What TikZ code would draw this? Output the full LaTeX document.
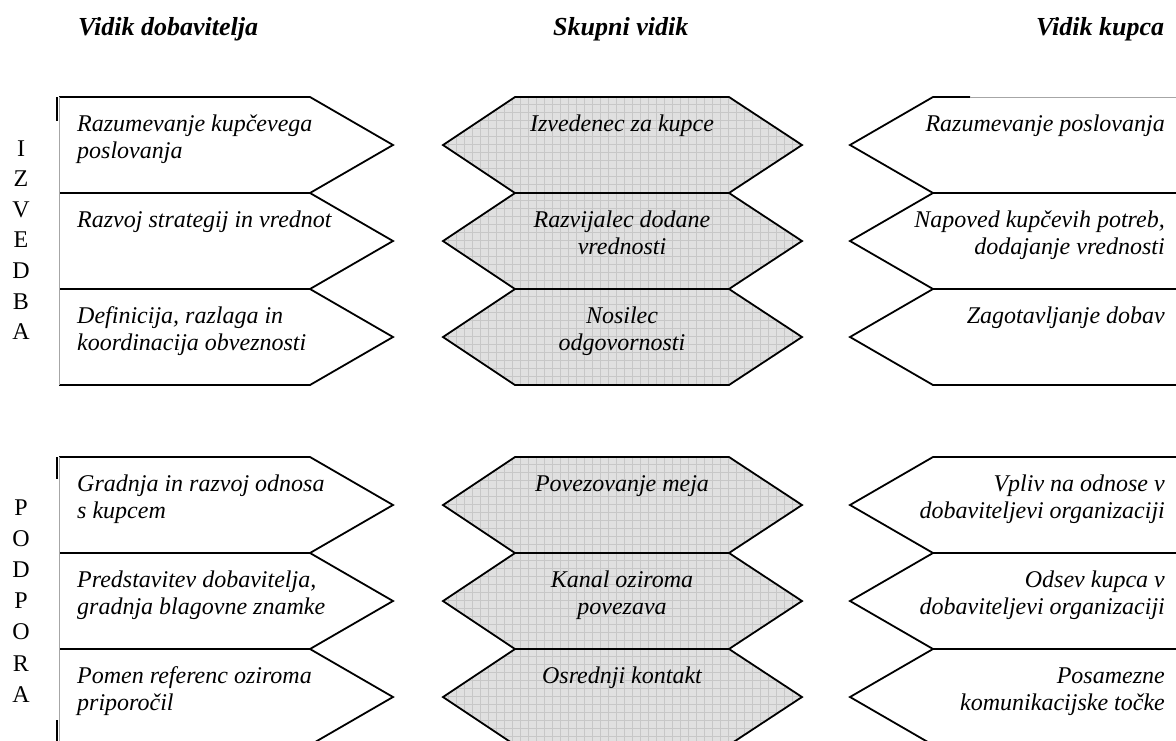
\documentclass[tikz,border=0pt]{standalone}
\usepackage{fontspec}
\setmainfont{Liberation Serif}
\newcommand{\tst}{\rule{0pt}{18pt}}
\begin{document}
\begin{tikzpicture}[x=1pt,y=-1pt,
  edge/.style={line width=1.8pt, black, line join=miter},
  thinedge/.style={line width=0.7pt, black!35},
  hexfill/.style={fill=black!12, path picture={\draw[black!22,line width=0.5pt,step=8pt]
      (path picture bounding box.south west) grid (path picture bounding box.north east);}},
  body/.style={font=\fontsize{24}{27.5}\selectfont\itshape, inner sep=0pt},
  lefttxt/.style={body, align=left, anchor=north west},
  midtxt/.style={body, align=center, anchor=north},
  righttxt/.style={body, align=right, anchor=north east},
  head/.style={font=\fontsize{26}{30}\selectfont\bfseries\itshape, inner sep=0pt, anchor=base west},
  vlet/.style={font=\fontsize{24}{27}\selectfont, inner sep=0pt, anchor=base}
]
\useasboundingbox (0,0) rectangle (1176,740);
\clip (0,0) rectangle (1176,740);

% headers
\node[head] (h1) at (78,35) {Vidik dobavitelja};
\node[head] (h2) at (553,35) {Skupni vidik};
\node[head] (h3) at (1036,35) {Vidik kupca};

% vertical letters
\foreach \l [count=\i from 0] in {I,Z,V,E,D,B,A}
  \node[vlet] (iz\i) at (21,156+30.6*\i) {\l};
\foreach \l [count=\i from 0] in {P,O,D,P,O,R,A}
  \node[vlet] (po\i) at (21,515+31.2*\i) {\l};

% ---------- shapes ----------
\foreach \y in {97,193,289,457,553,649} {
  % left chevrons
  \draw[edge] (59,\y) -- (310,\y) -- (393,\y+48) -- (310,\y+96) -- (59,\y+96);
  % middle hexagons
  \draw[edge,hexfill] (443,\y+48) -- (515,\y) -- (729,\y) -- (802,\y+48) -- (729,\y+96) -- (515,\y+96) -- cycle;
}
\foreach \y in {193,289,457,553,649} {
  \draw[edge] (1180,\y) -- (933,\y) -- (850,\y+48) -- (933,\y+96) -- (1180,\y+96);
}
\draw[edge] (970,97) -- (933,97) -- (850,145) -- (933,193);
\draw[thinedge] (970,97) -- (1180,97);

% left thin edges and ticks
\draw[thinedge] (59,97) -- (59,385);
\draw[thinedge] (59,457) -- (59,745);
\draw[edge] (57,97) -- (57,121);
\draw[edge] (57,457) -- (57,479);
\draw[edge] (57,720) -- (57,745);

% ---------- texts ----------
\node[lefttxt] (l1) at (77,97+16) {\tst Razumevanje kupčevega\\poslovanja};
\node[lefttxt] (l2) at (77,193+16) {\tst Razvoj strategij in vrednot};
\node[lefttxt] (l3) at (77,289+16) {\tst Definicija, razlaga in\\koordinacija obveznosti};
\node[lefttxt] (l4) at (77,457+16) {\tst Gradnja in razvoj odnosa\\s kupcem};
\node[lefttxt] (l5) at (77,553+16) {\tst Predstavitev dobavitelja,\\gradnja blagovne znamke};
\node[lefttxt] (l6) at (77,649+16) {\tst Pomen referenc oziroma\\priporočil};

\node[midtxt] (m1) at (622,97+16) {\tst Izvedenec za kupce};
\node[midtxt] (m2) at (622,193+16) {\tst Razvijalec dodane\\vrednosti};
\node[midtxt] (m3) at (622,289+16) {\tst Nosilec\\odgovornosti};
\node[midtxt] (m4) at (622,457+16) {\tst Povezovanje meja};
\node[midtxt] (m5) at (622,553+16) {\tst Kanal oziroma\\povezava};
\node[midtxt] (m6) at (622,649+16) {\tst Osrednji kontakt};

\node[righttxt] (r1) at (1165,97+16) {\tst Razumevanje poslovanja};
\node[righttxt] (r2) at (1165,193+16) {\tst Napoved kupčevih potreb,\\dodajanje vrednosti};
\node[righttxt] (r3) at (1165,289+16) {\tst Zagotavljanje dobav};
\node[righttxt] (r4) at (1165,457+16) {\tst Vpliv na odnose v\\dobaviteljevi organizaciji};
\node[righttxt] (r5) at (1165,553+16) {\tst Odsev kupca v\\dobaviteljevi organizaciji};
\node[righttxt] (r6) at (1165,649+16) {\tst Posamezne\\komunikacijske točke};
\end{tikzpicture}
\end{document}
